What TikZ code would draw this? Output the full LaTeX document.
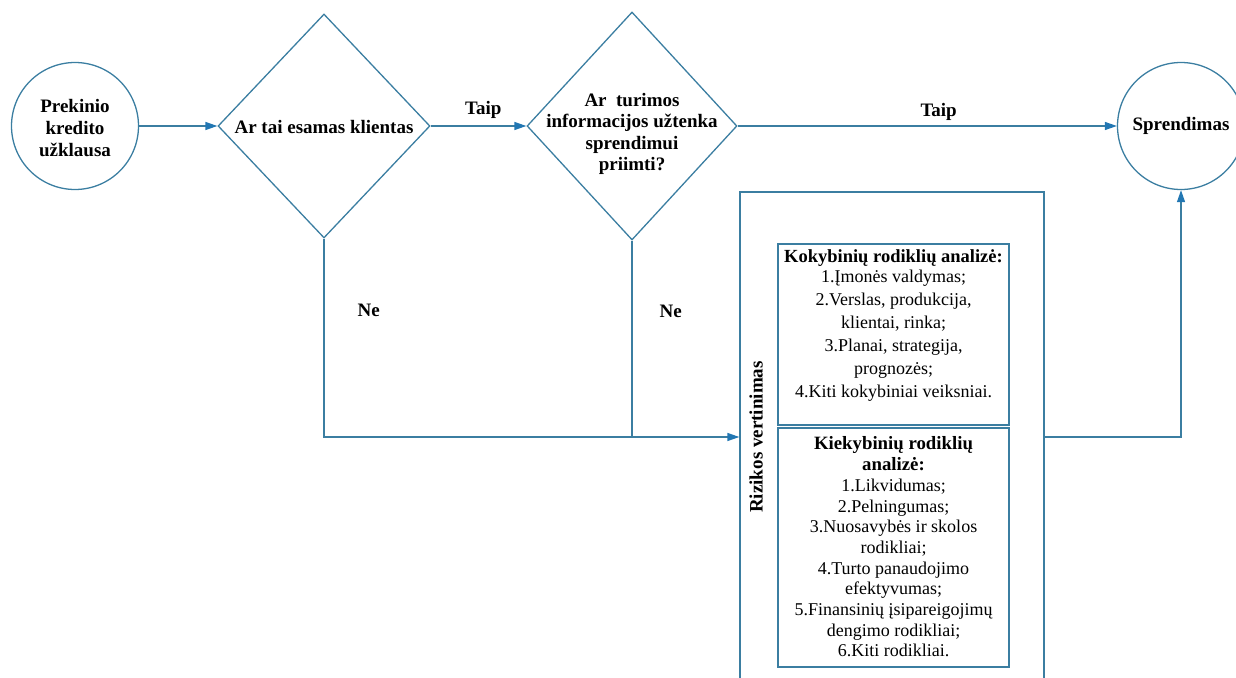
\documentclass[tikz,border=0pt]{standalone}
\usepackage{fontspec}
\setmainfont{Liberation Serif}
\usetikzlibrary{shapes.geometric,arrows.meta}
\definecolor{linecol}{HTML}{3B7EA1}
\definecolor{tipcol}{HTML}{2277B3}
\tikzset{
  base/.style={draw=linecol, line width=1.3pt, inner sep=0pt, align=center, font=\fontsize{19}{22}\selectfont\bfseries},
  roundnode/.style={base, circle, minimum size=127pt},
  decision/.style={draw=linecol, line width=1.3pt, inner sep=0pt, diamond},
  dtext/.style={inner sep=0pt, align=center, font=\fontsize{19}{21.5}\selectfont\bfseries},
  panel/.style={draw=linecol, line width=1.1pt, inner sep=0pt, minimum width=231pt},
  listtext/.style={inner sep=0pt, align=center},
  conn/.style={draw=linecol, line width=1.3pt},
  arr/.style={conn, -{Triangle[length=12pt,width=8pt,color=tipcol]}},
  lbl/.style={font=\fontsize{19}{22}\selectfont\bfseries, inner sep=1pt}
}
\begin{document}
\begin{tikzpicture}[x=1pt,y=-1pt]
\useasboundingbox (0,0) rectangle (1236,677);
\node[roundnode] (c1) at (75,126) {};
\node[dtext, font=\fontsize{19}{22}\selectfont\bfseries] (c1t) at (75,128) {Prekinio\\kredito\\užklausa};
\node[decision, minimum width=212pt, minimum height=224pt] (d1) at (324,126) {};
\node[dtext] (d1t) at (324,127) {Ar tai esamas klientas};
\node[decision, minimum width=210pt, minimum height=228pt] (d2) at (632,126) {};
\node[dtext] (d2t) at (632,134) {Ar\ \ turimos\\informacijos užtenka\\sprendimui\\priimti?};
\node[roundnode] (c2) at (1181,126) {Sprendimas};
\node[draw=linecol, line width=1.3pt, minimum width=304pt, minimum height=490pt, inner sep=0pt] (risk) at (892,437) {};
\node[lbl, rotate=90] (risklbl) at (756,437) {Rizikos vertinimas};
\node[panel, minimum height=181pt] (qual) at (893.5,334.5) {};
\node[listtext, font=\fontsize{18}{23}\selectfont] (qualt) at (893.5,326)
  {{\fontsize{18.5}{23}\selectfont\bfseries Kokybinių rodiklių analizė:}\\[-3pt]
   1.Įmonės valdymas;\\2.Verslas, produkcija,\\klientai, rinka;\\3.Planai, strategija,\\prognozės;\\4.Kiti kokybiniai veiksniai.};
\node[panel, minimum height=239pt] (quant) at (893.5,547.5) {};
\node[listtext, font=\fontsize{18}{20.7}\selectfont] (quantt) at (893.5,547)
  {{\fontsize{18.8}{20.7}\selectfont\bfseries Kiekybinių rodiklių}\\{\fontsize{18.8}{20.7}\selectfont\bfseries analizė:}\\
   1.Likvidumas;\\2.Pelningumas;\\3.Nuosavybės ir skolos\\rodikliai;\\4.Turto panaudojimo\\efektyvumas;\\5.Finansinių įsipareigojimų\\dengimo rodikliai;\\6.Kiti rodikliai.};
\draw[arr] (c1.east) -- (d1.west);
\draw[arr] (d1.east) -- node[lbl, above=6pt, pos=0.55] (t1) {Taip} (d2.west);
\draw[arr] (d2.east) -- node[lbl, above=4pt, pos=0.53] (t2) {Taip} (c2.west);
\draw[arr] (d1.south) |- node[lbl, pos=0.18, right=32pt] (n1) {Ne} (risk.west);
\draw[conn] (d2.south) -- node[lbl, pos=0.36, right=26pt] (n2) {Ne} (d2.south |- risk.west);
\draw[arr] (risk.east) -| (c2.south);
\end{tikzpicture}
\end{document}
